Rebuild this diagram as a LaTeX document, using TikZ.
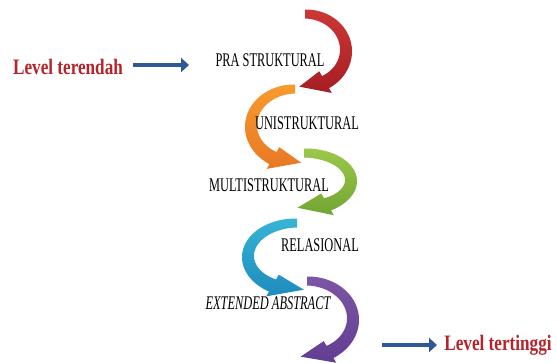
\documentclass[tikz,border=0pt]{standalone}
\usepackage{fontspec}
\setmainfont{Liberation Serif}
\usetikzlibrary{arrows.meta}
\definecolor{lvlred}{RGB}{180,36,42}
\definecolor{arrblue}{RGB}{47,88,150}
\definecolor{redA}{RGB}{205,55,55}\definecolor{redB}{RGB}{165,30,35}
\definecolor{orA}{RGB}{247,155,45}\definecolor{orB}{RGB}{232,120,35}
\definecolor{grA}{RGB}{155,200,75}\definecolor{grB}{RGB}{115,165,50}
\definecolor{blA}{RGB}{55,180,212}\definecolor{blB}{RGB}{30,140,190}
\definecolor{puA}{RGB}{125,85,165}\definecolor{puB}{RGB}{98,62,145}
\newcommand\condtxt[1]{\scalebox{0.64}[1]{#1}}
\newcommand\boldtxt[1]{\scalebox{0.78}[1]{#1}}
\newcommand\swirl[7]{%
\shade[top color=#1,bottom color=#2]
 plot[domain=-90:60,samples=50] ({#3+#7*(#5+4.5+2.5*(\x+90)/150)*cos(\x)},{#4+(#6+4.5+2.5*(\x+90)/150)*sin(\x)})
 -- ({#3+#7*(#5+12.5)*cos(60)},{#4+(#6+12.5)*sin(60)})
 -- ({#3+#7*#5*cos(98)},{#4+#6*sin(98)})
 -- ({#3+#7*(#5-12.5)*cos(60)},{#4+(#6-12.5)*sin(60)})
 -- plot[domain=60:-90,samples=50] ({#3+#7*(#5-4.5-2.5*(\x+90)/150)*cos(\x)},{#4+(#6-4.5-2.5*(\x+90)/150)*sin(\x)})
 -- cycle;}
\begin{document}
\begin{tikzpicture}[x=0.75pt,y=-0.75pt,
  lbl/.style={inner sep=0pt,font=\fontsize{14.5}{16}\selectfont},
  lvl/.style={inner sep=0pt,text=lvlred,font=\fontsize{16.5}{18}\selectfont\bfseries},
  bluearr/.style={draw=arrblue,line width=3.6pt,-{Triangle[width=10.5pt,length=6pt]}}]
\useasboundingbox[fill=white] (0,0) rectangle (557,362);
% swirling arrows
\swirl{redA}{redB}{305}{50.5}{41}{36.5}{1}
\swirl{orA}{orB}{295}{126}{44}{37}{-1}
\swirl{grA}{grB}{304}{180.5}{47}{27.5}{1}
\swirl{blA}{blB}{297}{256.5}{49}{33.5}{-1}
\swirl{puA}{puB}{307}{319}{46}{38}{1}
% labels
\node[lbl] (pra) at (270,60) {\condtxt{PRA STRUKTURAL}};
\node[lbl] (uni) at (307,123) {\condtxt{UNISTRUKTURAL}};
\node[lbl] (multi) at (269,185) {\condtxt{MULTISTRUKTURAL}};
\node[lbl] (rel) at (320,245) {\condtxt{RELASIONAL}};
\node[lbl] (ext) at (268,303) {\condtxt{\itshape EXTENDED ABSTRACT}};
\node[lvl] (low) at (68,67) {\boldtxt{Level terendah}};
\node[lvl] (high) at (498,345) {\boldtxt{Level tertinggi}};
% level arrows
\coordinate (a1s) at (133,65);
\coordinate (a1e) at (189,65);
\coordinate (a2s) at (382,345);
\coordinate (a2e) at (437,345);
\draw[bluearr] (a1s) -- (a1e);
\draw[bluearr] (a2s) -- (a2e);
\end{tikzpicture}
\end{document}
